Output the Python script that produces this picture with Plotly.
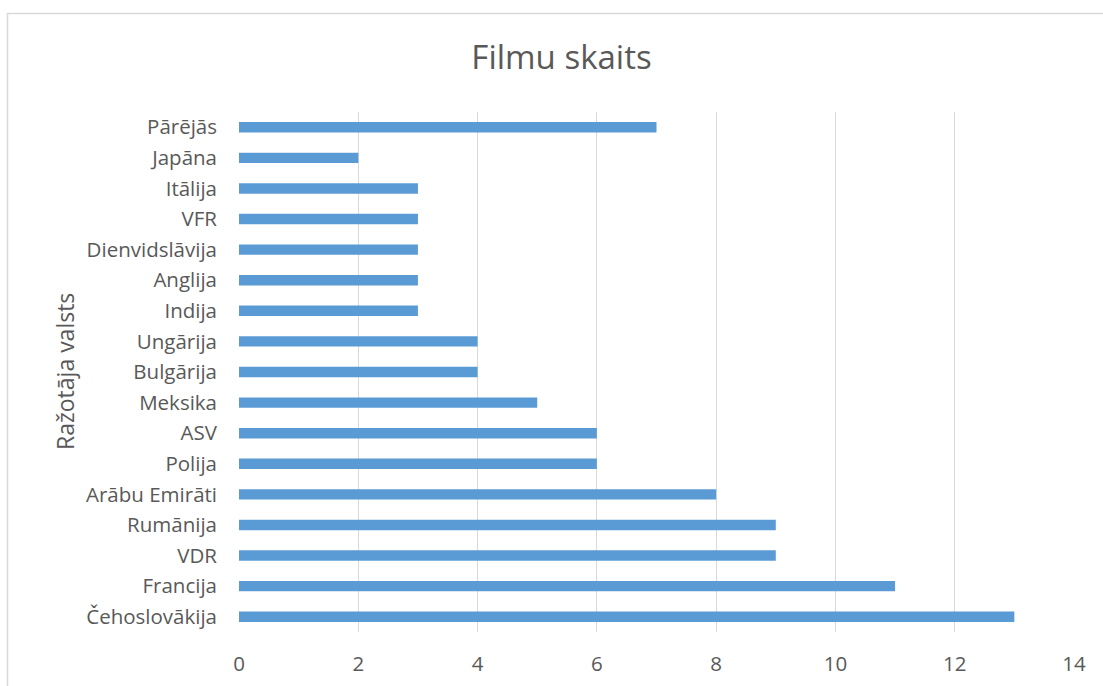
import plotly.graph_objects as go

categories = ["Čehoslovākija", "Francija", "VDR", "Rumānija", "Arābu Emirāti", "Polija", "ASV",
              "Meksika", "Bulgārija", "Ungārija", "Indija", "Anglija", "Dienvidslāvija", "VFR",
              "Itālija", "Japāna", "Pārējās"]
values = [13, 11, 9, 9, 8, 6, 6, 5, 4, 4, 3, 3, 3, 3, 3, 2, 7]
x_ticks = [0, 2, 4, 6, 8, 10, 12, 14]

W, H = 1103, 686
L, R, T, B = 239, 29, 112, 54
pw, ph = W - L - R, H - T - B

def px_x(p):
    return (p - L) / pw

def px_y(p):
    return (H - B - p) / ph

text_col = "#595959"
font_fam = "Open Sans, Liberation Sans, sans-serif"

fig = go.Figure(go.Bar(
    x=values, y=categories, orientation="h",
    marker=dict(color="#5B9BD5", line=dict(width=0)),
    width=0.34,
))

fig.update_layout(
    width=W, height=H,
    margin=dict(l=L, r=R, t=T, b=B, autoexpand=False),
    paper_bgcolor="white", plot_bgcolor="white",
    showlegend=False,
    font=dict(family=font_fam, color=text_col, size=20),
    title=dict(text="Filmu skaits", x=561.5 / W, xref="container", xanchor="center",
               y=1 - 57 / H, yref="container", yanchor="middle",
               font=dict(size=33, color=text_col, family=font_fam)),
    xaxis=dict(range=[0, 14], tickvals=x_ticks, showgrid=True, gridcolor="#D9D9D9",
               gridwidth=1.3, zeroline=False, showline=False, ticks="", automargin=False,
               ticklabelstandoff=17, tickfont=dict(size=20.5, color=text_col)),
    yaxis=dict(categoryorder="array", categoryarray=categories, range=[-0.5, 16.5],
               showgrid=False, zeroline=False, showline=False, ticks="", automargin=False,
               ticklabelstandoff=21, tickfont=dict(size=20.5, color=text_col)),
    annotations=[dict(text="Ražotāja valsts", xref="paper", yref="paper",
                      x=px_x(65), y=px_y(372), xanchor="center", yanchor="middle",
                      textangle=-90, showarrow=False,
                      font=dict(size=23, color=text_col, family=font_fam))],
    shapes=[dict(type="rect", xref="paper", yref="paper",
                 x0=px_x(7.5), x1=px_x(1120), y0=px_y(13.5), y1=px_y(720),
                 line=dict(color="#D9D9D9", width=1.5), fillcolor="rgba(0,0,0,0)",
                 layer="below")],
)

fig.write_html("out.html", config={"displayModeBar": False},
               post_script="document.body.style.margin='0px';")
